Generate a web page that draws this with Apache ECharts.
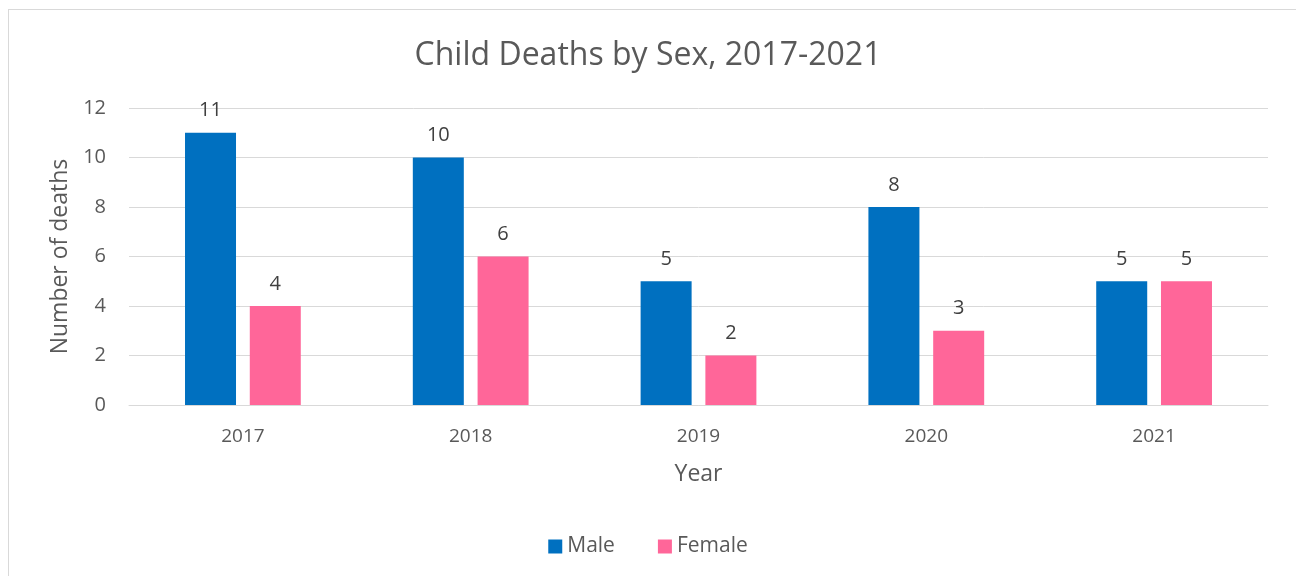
<!DOCTYPE html>
<html>
<head>
<meta charset="utf-8">
<script src="https://cdn.jsdelivr.net/npm/echarts@6/dist/echarts.min.js"></script>
<style>
  html, body { margin: 0; padding: 0; background: #fff; }
  #frame { position: absolute; left: 0; top: 0; width: 1296px; height: 576px; overflow: hidden; }
  #card { position: absolute; left: 8px; top: 9px; width: 1300px; height: 580px;
          border-left: 1px solid #d9d9d9; border-top: 1px solid #d9d9d9; box-sizing: border-box; }
  #chart { position: absolute; left: 0; top: 0; width: 1296px; height: 576px; }
</style>
</head>
<body>
<div id="frame">
  <div id="card"></div>
  <div id="chart"></div>
</div>
<script>
const years = ['2017', '2018', '2019', '2020', '2021'];
const male = [11, 10, 5, 8, 5];
const female = [4, 6, 2, 3, 5];
const yTicks = { min: 0, max: 12, interval: 2 };

const FONT = '"Open Sans", "Noto Sans", sans-serif';
const GREY = '#595959';

const chart = echarts.init(document.getElementById('chart'), null, { renderer: 'canvas' });

const labelStyle = {
  show: true,
  position: 'top',
  distance: 12,
  color: '#404040',
  fontFamily: FONT,
  fontSize: 20
};

chart.setOption({
  animation: false,
  title: {
    text: 'Child Deaths by Sex, 2017-2021',
    left: 'center',
    top: 35,
    textStyle: { fontFamily: FONT, fontSize: 32, fontWeight: 'normal', color: GREY }
  },
  legend: {
    bottom: 14,
    left: 'center',
    itemWidth: 14,
    itemHeight: 14,
    itemGap: 43,
    icon: 'rect',
    textStyle: { fontFamily: FONT, fontSize: 21, color: GREY },
    data: ['Male', 'Female']
  },
  grid: { left: 129, right: 28, top: 108, bottom: 171 },
  xAxis: {
    type: 'category',
    data: years,
    name: 'Year',
    nameLocation: 'middle',
    nameGap: 58,
    nameTextStyle: { fontFamily: FONT, fontSize: 23, color: GREY },
    axisTick: { show: false },
    axisLine: { lineStyle: { color: '#d9d9d9', width: 1 } },
    axisLabel: { fontFamily: FONT, fontSize: 19, color: GREY, margin: 22 }
  },
  yAxis: {
    type: 'value',
    min: yTicks.min,
    max: yTicks.max,
    interval: yTicks.interval,
    name: 'Number of deaths',
    nameLocation: 'middle',
    nameGap: 57,
    nameTextStyle: { fontFamily: FONT, fontSize: 23, color: GREY },
    axisLine: { show: false },
    axisTick: { show: false },
    axisLabel: { fontFamily: FONT, fontSize: 20, color: GREY, margin: 23 },
    splitLine: { lineStyle: { color: '#d9d9d9', width: 1 } }
  },
  series: [
    {
      name: 'Male',
      type: 'bar',
      data: male,
      barWidth: 51,
      barGap: '27%',
      itemStyle: { color: '#0070C0' },
      label: labelStyle
    },
    {
      name: 'Female',
      type: 'bar',
      data: female,
      barWidth: 51,
      itemStyle: { color: '#FF6699' },
      label: labelStyle
    }
  ]
});
</script>
</body>
</html>
